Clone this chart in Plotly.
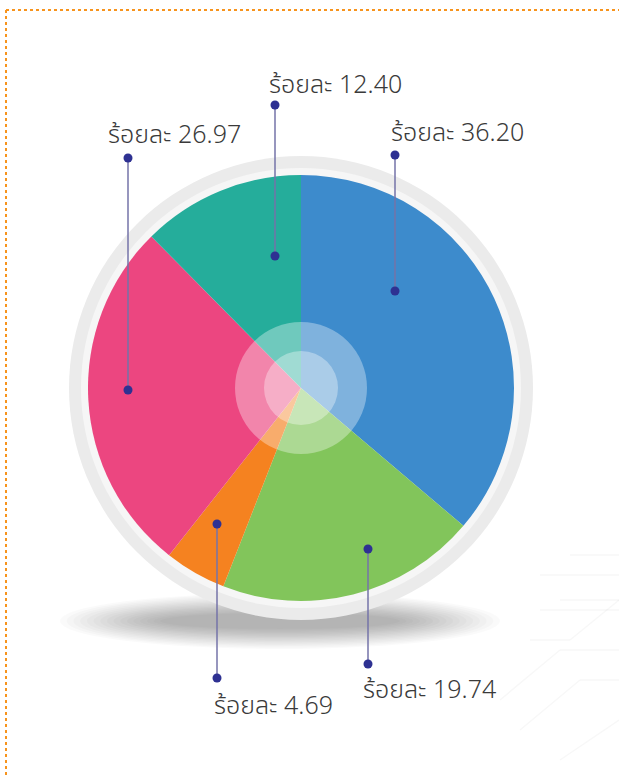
import plotly.graph_objects as go

# ---- data ----
categories = ["A", "B", "C", "D", "E"]
values = [36.20, 19.74, 4.69, 26.97, 12.40]
label_texts = ["ร้อยละ 36.20", "ร้อยละ 19.74", "ร้อยละ 4.69", "ร้อยละ 26.97", "ร้อยละ 12.40"]

# ---- styles / layout positions (pixel space) ----
colors = ["#3d8bcc", "#82c55b", "#f58220", "#ec4680", "#25ad9b"]
W, H = 619, 776
cx, cy, R = 301, 388, 213
leader_x = [395, 368, 217, 128, 275]
leader_y0 = [155, 549, 524, 158, 105]
leader_y1 = [291, 664, 678, 390, 256]
text_x = [389, 361, 212, 106, 267]
text_y = [133, 690, 706, 135, 85]

navy = "#2e3192"
line_col = "#7473a8"

fig = go.Figure()

fig.add_trace(go.Pie(
    labels=categories, values=values, sort=False, direction="clockwise",
    rotation=0, marker=dict(colors=colors, line=dict(width=0)),
    textinfo="none", hoverinfo="label+percent", showlegend=False,
    domain=dict(x=[(cx - R) / W, (cx + R) / W], y=[1 - (cy + R) / H, 1 - (cy - R) / H]),
))

shapes = []
# dotted border
shapes.append(dict(type="line", xref="x", yref="y", x0=6, y0=10, x1=W, y1=10,
                   line=dict(color="#f7941d", width=2, dash="dot"), layer="below"))
shapes.append(dict(type="line", xref="x", yref="y", x0=6, y0=10, x1=6, y1=H,
                   line=dict(color="#f7941d", width=2, dash="dot"), layer="below"))
# faint circuit decoration bottom right
circ = [((540, 575), (619, 575)), ((560, 600), (619, 600)), ((570, 555), (619, 555)),
        ((530, 640), (570, 640)), ((570, 640), (619, 600)), ((500, 700), (560, 650)),
        ((560, 650), (619, 650)), ((520, 730), (580, 680)), ((580, 680), (619, 680)),
        ((560, 760), (619, 720)), ((540, 610), (619, 610))]
for (a, b) in circ:
    shapes.append(dict(type="line", xref="x", yref="y", x0=a[0], y0=a[1], x1=b[0], y1=b[1],
                       line=dict(color="rgba(0,0,0,0.03)", width=1.5), layer="below"))
# soft shadow
n = 16
for k in range(n):
    t = k / (n - 1)
    rx = 220 - 100 * t
    ry = 28 - 20 * t
    shapes.append(dict(type="circle", xref="x", yref="y", x0=280 - rx, x1=280 + rx,
                       y0=621 - ry, y1=621 + ry, fillcolor="rgba(0,0,0,0.02)",
                       line=dict(width=0), layer="below"))
# grey rim
shapes.append(dict(type="circle", xref="x", yref="y", x0=cx - 232, x1=cx + 232, y0=cy - 232, y1=cy + 232,
                   fillcolor="#ebebeb", line=dict(width=0), layer="below"))
shapes.append(dict(type="circle", xref="x", yref="y", x0=cx - 220, x1=cx + 220, y0=cy - 220, y1=cy + 220,
                   fillcolor="#f6f6f6", line=dict(width=0), layer="below"))
# translucent center circles
shapes.append(dict(type="circle", xref="x", yref="y", x0=cx - 66, x1=cx + 66, y0=cy - 66, y1=cy + 66,
                   fillcolor="rgba(255,255,255,0.34)", line=dict(width=0), layer="above"))
shapes.append(dict(type="circle", xref="x", yref="y", x0=cx - 37, x1=cx + 37, y0=cy - 37, y1=cy + 37,
                   fillcolor="rgba(255,255,255,0.34)", line=dict(width=0), layer="above"))
# leader lines and dots (above pie)
for i in range(len(values)):
    shapes.append(dict(type="line", xref="x", yref="y", x0=leader_x[i], x1=leader_x[i],
                       y0=leader_y0[i], y1=leader_y1[i], line=dict(color=line_col, width=1.5), layer="above"))
    for yy in (leader_y0[i], leader_y1[i]):
        shapes.append(dict(type="circle", xref="x", yref="y", x0=leader_x[i] - 4.5, x1=leader_x[i] + 4.5,
                           y0=yy - 4.5, y1=yy + 4.5, fillcolor=navy, line=dict(width=0), layer="above"))

annotations = []
for i in range(len(values)):
    annotations.append(dict(x=text_x[i], y=text_y[i], xref="x", yref="y", text=label_texts[i],
                            showarrow=False, xanchor="left", yanchor="middle",
                            font=dict(size=25, color="#3a3a3a", weight=300,
                                      family="Noto Sans Thai, Loma, Garuda, Noto Sans, sans-serif")))

fig.update_layout(
    width=W, height=H, margin=dict(l=0, r=0, t=0, b=0),
    paper_bgcolor="white", plot_bgcolor="rgba(0,0,0,0)",
    xaxis=dict(range=[0, W], visible=False, fixedrange=True),
    yaxis=dict(range=[H, 0], visible=False, fixedrange=True),
    shapes=shapes, annotations=annotations,
)

fig.write_html("out.html", config={"displayModeBar": False},
               post_script="document.body.style.margin='0';")
